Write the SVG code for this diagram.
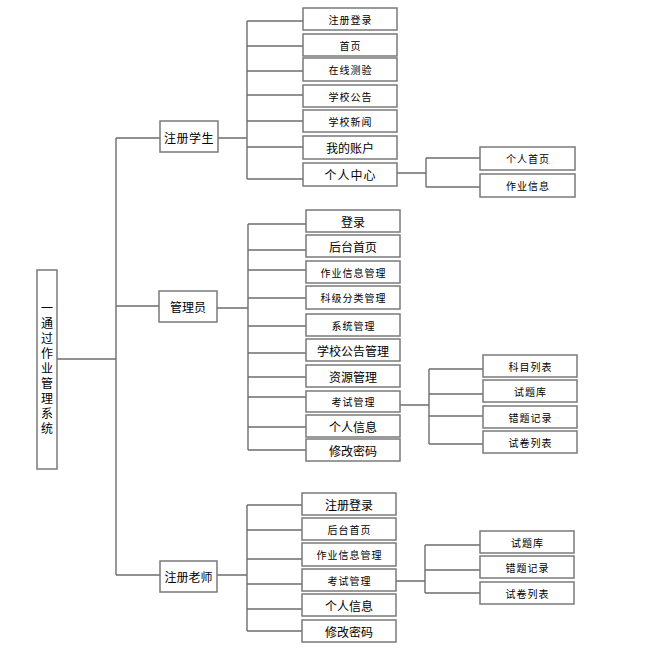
<svg xmlns="http://www.w3.org/2000/svg" width="668" height="656" viewBox="0 0 668 656">
<style>
.b{fill:#fff;stroke:#7a7a7a;stroke-width:1.5}
.l{fill:none;stroke:#6e6e6e;stroke-width:1.4}
text{font-family:"Noto Sans CJK SC","Noto Sans CJK JP",sans-serif;fill:#000;text-anchor:middle;dominant-baseline:central}
.s{font-size:10px;letter-spacing:1px}
.m{font-size:12px}
.v{writing-mode:vertical-rl;text-anchor:start;letter-spacing:3.1px}
</style>
<rect width="668" height="656" fill="#fff"/>
<g id="connectors" class="l">
<path d="M57 359H116M116 138V575M116 138H160M116 306H159M116 575H160"/>
<path d="M218 138H247M247 21V179M247 21H303M247 46H303M247 71H303M247 95H303M247 121H303M247 147H303M247 179H303"/>
<path d="M397 173H426M426 158V187M426 158H480M426 187H480"/>
<path d="M217 308H248M248 224V450M248 224H306M248 250H306M248 270H306M248 298H306M248 326H306M248 353H306M248 377H306M248 397H306M248 427H306M248 450H306"/>
<path d="M400 405H429M429 369V444M429 369H483M429 394H483M429 416H483M429 444H483"/>
<path d="M217 575H247M247 505V631M247 505H302M247 530H302M247 559H302M247 584H302M247 609H302M247 631H302"/>
<path d="M396 581H425M425 545V593M425 545H480M425 570H480M425 593H480"/>
</g>
<g id="root"><rect class="b" x="37" y="270" width="20" height="199"/>
<text class="m v" x="47" y="302">一通过作业管理系统</text></g>
<g id="student"><rect class="b" x="160" y="121" width="58" height="31"/><text class="m" x="189" y="137" letter-spacing="0.5">注册学生</text></g>
<g id="admin"><rect class="b" x="159" y="291" width="58" height="31"/><text class="m" x="188" y="306.5">管理员</text></g>
<g id="teacher"><rect class="b" x="160" y="561" width="57" height="31"/><text class="m" x="188.5" y="576.5">注册老师</text></g>

<g id="s1"><rect class="b" x="303" y="8" width="94" height="22"/><text class="s" x="350.5" y="19">注册登录</text></g>
<g id="s2"><rect class="b" x="303" y="34" width="94" height="22"/><text class="s" x="350.5" y="45">首页</text></g>
<g id="s3"><rect class="b" x="303" y="58" width="94" height="23"/><text class="s" x="350.5" y="69.5">在线测验</text></g>
<g id="s4"><rect class="b" x="303" y="85" width="94" height="22"/><text class="s" x="350.5" y="96">学校公告</text></g>
<g id="s5"><rect class="b" x="303" y="110" width="94" height="22"/><text class="s" x="350.5" y="121">学校新闻</text></g>
<g id="s6"><rect class="b" x="303" y="136" width="94" height="23"/><text class="m" x="350" y="147.5">我的账户</text></g>
<g id="s7"><rect class="b" x="303" y="163" width="94" height="23"/><text class="m" x="350.5" y="174.5" letter-spacing="1">个人中心</text></g>
<g id="s7a"><rect class="b" x="480" y="147" width="95" height="23"/><text class="s" x="528" y="158.5">个人首页</text></g>
<g id="s7b"><rect class="b" x="480" y="174" width="95" height="23"/><text class="s" x="528" y="185.5">作业信息</text></g>

<g id="a1"><rect class="b" x="306" y="210" width="94" height="22"/><text class="m" x="353" y="221">登录</text></g>
<g id="a2"><rect class="b" x="306" y="235" width="94" height="22"/><text class="m" x="353" y="246">后台首页</text></g>
<g id="a3"><rect class="b" x="306" y="261" width="94" height="22"/><text class="s" x="353.5" y="272">作业信息管理</text></g>
<g id="a4"><rect class="b" x="306" y="286" width="94" height="23"/><text class="s" x="353.5" y="297.5">科级分类管理</text></g>
<g id="a5"><rect class="b" x="306" y="314" width="94" height="22"/><text class="s" x="353.5" y="325">系统管理</text></g>
<g id="a6"><rect class="b" x="306" y="339" width="94" height="22"/><text class="m" x="353" y="350">学校公告管理</text></g>
<g id="a7"><rect class="b" x="306" y="365" width="94" height="22"/><text class="m" x="353" y="376">资源管理</text></g>
<g id="a8"><rect class="b" x="306" y="391" width="94" height="21"/><text class="s" x="353.5" y="401.5">考试管理</text></g>
<g id="a9"><rect class="b" x="306" y="415" width="94" height="22"/><text class="m" x="353" y="426">个人信息</text></g>
<g id="a10"><rect class="b" x="306" y="439" width="94" height="22"/><text class="m" x="353" y="450">修改密码</text></g>
<g id="a8a"><rect class="b" x="483" y="355" width="94" height="22"/><text class="s" x="530.5" y="366">科目列表</text></g>
<g id="a8b"><rect class="b" x="483" y="380" width="94" height="22"/><text class="s" x="530.5" y="391">试题库</text></g>
<g id="a8c"><rect class="b" x="483" y="406" width="94" height="22"/><text class="s" x="530.5" y="417">错题记录</text></g>
<g id="a8d"><rect class="b" x="483" y="431" width="94" height="22"/><text class="s" x="530.5" y="442">试卷列表</text></g>

<g id="t1"><rect class="b" x="302" y="493" width="94" height="22"/><text class="m" x="349" y="504">注册登录</text></g>
<g id="t2"><rect class="b" x="302" y="518" width="94" height="22"/><text class="s" x="349.5" y="529">后台首页</text></g>
<g id="t3"><rect class="b" x="302" y="543" width="94" height="23"/><text class="s" x="349.5" y="554.5">作业信息管理</text></g>
<g id="t4"><rect class="b" x="302" y="569" width="94" height="22"/><text class="s" x="349.5" y="580">考试管理</text></g>
<g id="t5"><rect class="b" x="302" y="594" width="94" height="22"/><text class="m" x="349" y="605">个人信息</text></g>
<g id="t6"><rect class="b" x="302" y="620" width="94" height="22"/><text class="m" x="349" y="631">修改密码</text></g>
<g id="t4a"><rect class="b" x="480" y="531" width="94" height="22"/><text class="s" x="527.5" y="542">试题库</text></g>
<g id="t4b"><rect class="b" x="480" y="556" width="94" height="22"/><text class="s" x="527.5" y="567">错题记录</text></g>
<g id="t4c"><rect class="b" x="480" y="582" width="94" height="22"/><text class="s" x="527.5" y="593">试卷列表</text></g>
</svg>
